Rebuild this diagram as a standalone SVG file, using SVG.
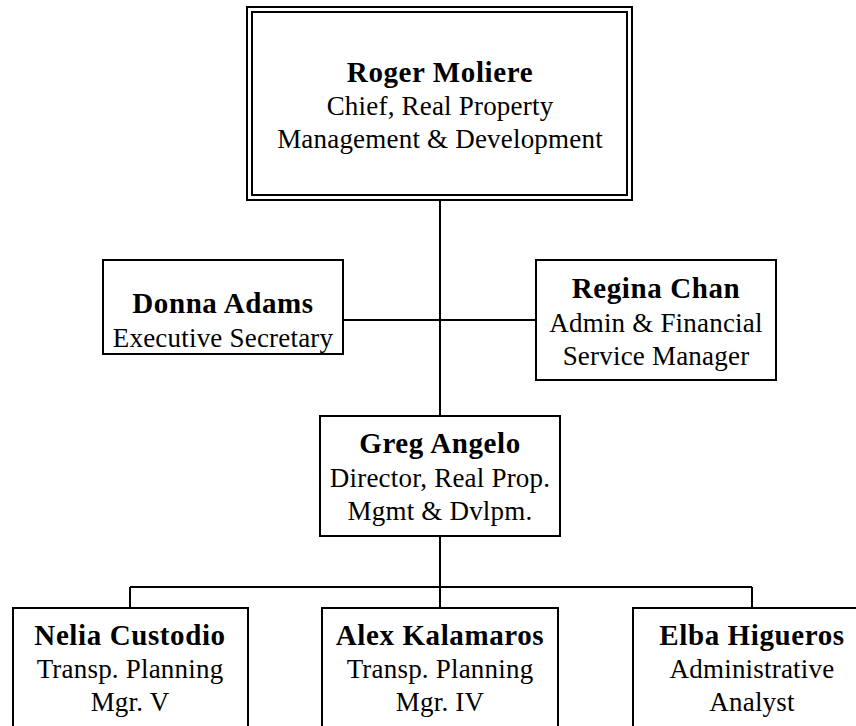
<svg xmlns="http://www.w3.org/2000/svg" width="856" height="726" viewBox="0 0 856 726">
<style>
.box{fill:#fff;stroke:#000;stroke-width:2}
.ln{fill:none;stroke:#000;stroke-width:2}
text{font-family:"Liberation Serif","Times New Roman",serif;text-anchor:middle;fill:#000}
.nm{font-size:29px;font-weight:bold;letter-spacing:0.6px}
.tt{font-size:27px;letter-spacing:0.2px}
</style>
<rect width="856" height="726" fill="#fff"/>
<g id="connectors">
<path class="ln" d="M440 200V416M343 320H536M440 536V587M130 587H752M130 587V608M440 587V608M752 587V608"/>
</g>
<g id="roger">
<rect class="box" x="247" y="7" width="385" height="193"/>
<rect class="box" x="252" y="12" width="375" height="183"/>
<text class="nm" x="440" y="82">Roger Moliere</text>
<text class="tt" x="440" y="115">Chief, Real Property</text>
<text class="tt" x="440" y="148">Management &amp; Development</text>
</g>
<g id="donna">
<rect class="box" x="103" y="260" width="240" height="94"/>
<text class="nm" x="223" y="313">Donna Adams</text>
<text class="tt" x="223" y="347">Executive Secretary</text>
</g>
<g id="regina">
<rect class="box" x="536" y="260" width="240" height="120"/>
<text class="nm" x="656" y="298">Regina Chan</text>
<text class="tt" x="656" y="332">Admin &amp; Financial</text>
<text class="tt" x="656" y="365">Service Manager</text>
</g>
<g id="greg">
<rect class="box" x="320" y="416" width="240" height="120"/>
<text class="nm" x="440" y="453">Greg Angelo</text>
<text class="tt" x="440" y="487">Director, Real Prop.</text>
<text class="tt" x="440" y="520">Mgmt &amp; Dvlpm.</text>
</g>
<g id="nelia">
<rect class="box" x="13" y="608" width="235" height="140"/>
<text class="nm" x="130" y="645">Nelia Custodio</text>
<text class="tt" x="130" y="678">Transp. Planning</text>
<text class="tt" x="130" y="711">Mgr. V</text>
</g>
<g id="alex">
<rect class="box" x="322" y="608" width="236" height="140"/>
<text class="nm" x="440" y="645">Alex Kalamaros</text>
<text class="tt" x="440" y="678">Transp. Planning</text>
<text class="tt" x="440" y="711">Mgr. IV</text>
</g>
<g id="elba">
<rect class="box" x="633" y="608" width="236" height="140"/>
<text class="nm" x="752" y="645">Elba Higueros</text>
<text class="tt" x="752" y="678">Administrative</text>
<text class="tt" x="752" y="711">Analyst</text>
</g>
</svg>
